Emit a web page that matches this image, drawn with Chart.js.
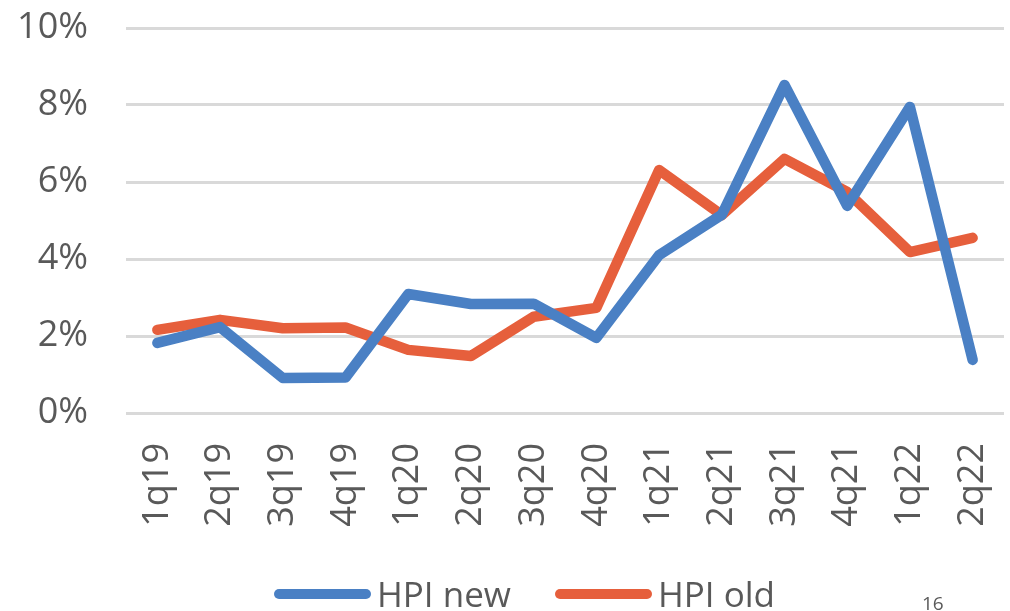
<!DOCTYPE html>
<html>
<head>
<meta charset="utf-8">
<script src="https://cdn.jsdelivr.net/npm/chart.js@4"></script>
<style>
  body { margin: 0; background: #fff; }
  #wrap { position: relative; width: 1010px; height: 611px; }
  #legend {
    position: absolute; top: 570px; left: 274px;
    display: flex; align-items: center;
    font-family: 'Open Sans', sans-serif; font-size: 35px; color: #595959;
  }
  .swatch { display: inline-block; width: 97px; height: 10px; border-radius: 5px; margin-right: 6px; }
  .item { display: flex; align-items: center; margin-right: 44px; }
  #page { position: absolute; left: 922px; top: 590px; font-family: 'Open Sans', sans-serif; font-size: 19px; color: #595959; }
</style>
</head>
<body>
<div id="wrap">
  <canvas id="hpi" width="1010" height="611"></canvas>
  <div id="legend"></div>
  <div id="page">16</div>
</div>
<script>
var quarters = ["1q19", "2q19", "3q19", "4q19", "1q20", "2q20", "3q20", "4q20",
                "1q21", "2q21", "3q21", "4q21", "1q22", "2q22"];
var hpiNew = [1.82, 2.23, 0.91, 0.92, 3.09, 2.83, 2.84, 1.95, 4.10, 5.15, 8.52, 5.38, 7.95, 1.38];
var hpiOld = [2.16, 2.42, 2.20, 2.22, 1.64, 1.48, 2.50, 2.73, 6.31, 5.14, 6.60, 5.74, 4.18, 4.55];
var yTicks = [0, 2, 4, 6, 8, 10];

var blue = '#4a80c4';
var orange = '#e65f3c';
var grey = '#595959';

var chart;

function initializeChart() {
    var ctx = document.getElementById("hpi");
    chart = new Chart(ctx, {
        type: 'line',
        data: {
            labels: quarters,
            datasets: [{
                label: "HPI new",
                data: hpiNew,
                borderColor: blue,
                backgroundColor: blue,
                borderWidth: 10.5,
                pointRadius: 0,
                tension: 0,
                borderCapStyle: 'round',
                borderJoinStyle: 'round'
            }, {
                label: "HPI old",
                data: hpiOld,
                borderColor: orange,
                backgroundColor: orange,
                borderWidth: 10.5,
                pointRadius: 0,
                tension: 0,
                borderCapStyle: 'round',
                borderJoinStyle: 'round'
            }]
        },
        options: {
            responsive: false,
            animation: false,
            layout: { padding: { top: 28, right: 6, bottom: 0, left: 0 } },
            plugins: {
                legend: { display: false },
                tooltip: { enabled: false }
            },
            scales: {
                x: {
                    offset: true,
                    grid: { display: false },
                    border: { display: false },
                    ticks: {
                        color: grey,
                        font: { family: 'Open Sans', size: 36 },
                        minRotation: 90,
                        maxRotation: 90,
                        padding: 22
                    },
                    afterFit: function (scale) {
                        scale.height = 198;
                        scale.paddingLeft = 0;  // keep the plot edges fixed
                        scale.paddingRight = 0;
                    }
                },
                y: {
                    min: 0,
                    max: 10,
                    afterBuildTicks: function (scale) {
                        scale.ticks = yTicks.map(function (v) { return { value: v }; });
                    },
                    grid: { color: '#d9d9d9', lineWidth: 3, drawTicks: false },
                    border: { display: false },
                    ticks: {
                        color: grey,
                        font: { family: 'Open Sans', size: 36 },
                        padding: 38,
                        callback: function (value) { return value + '%'; }
                    },
                    afterFit: function (scale) {
                        scale.width = 126;
                        scale.paddingTop = 0;
                        scale.paddingBottom = 0;
                    }
                }
            }
        }
    });
}

function buildLegend() {
    var box = document.getElementById('legend');
    chart.data.datasets.forEach(function (ds) {
        var item = document.createElement('div');
        item.className = 'item';
        var sw = document.createElement('span');
        sw.className = 'swatch';
        sw.style.background = ds.borderColor;
        item.appendChild(sw);
        item.appendChild(document.createTextNode(ds.label));
        box.appendChild(item);
    });
}

initializeChart();
buildLegend();
</script>
</body>
</html>
